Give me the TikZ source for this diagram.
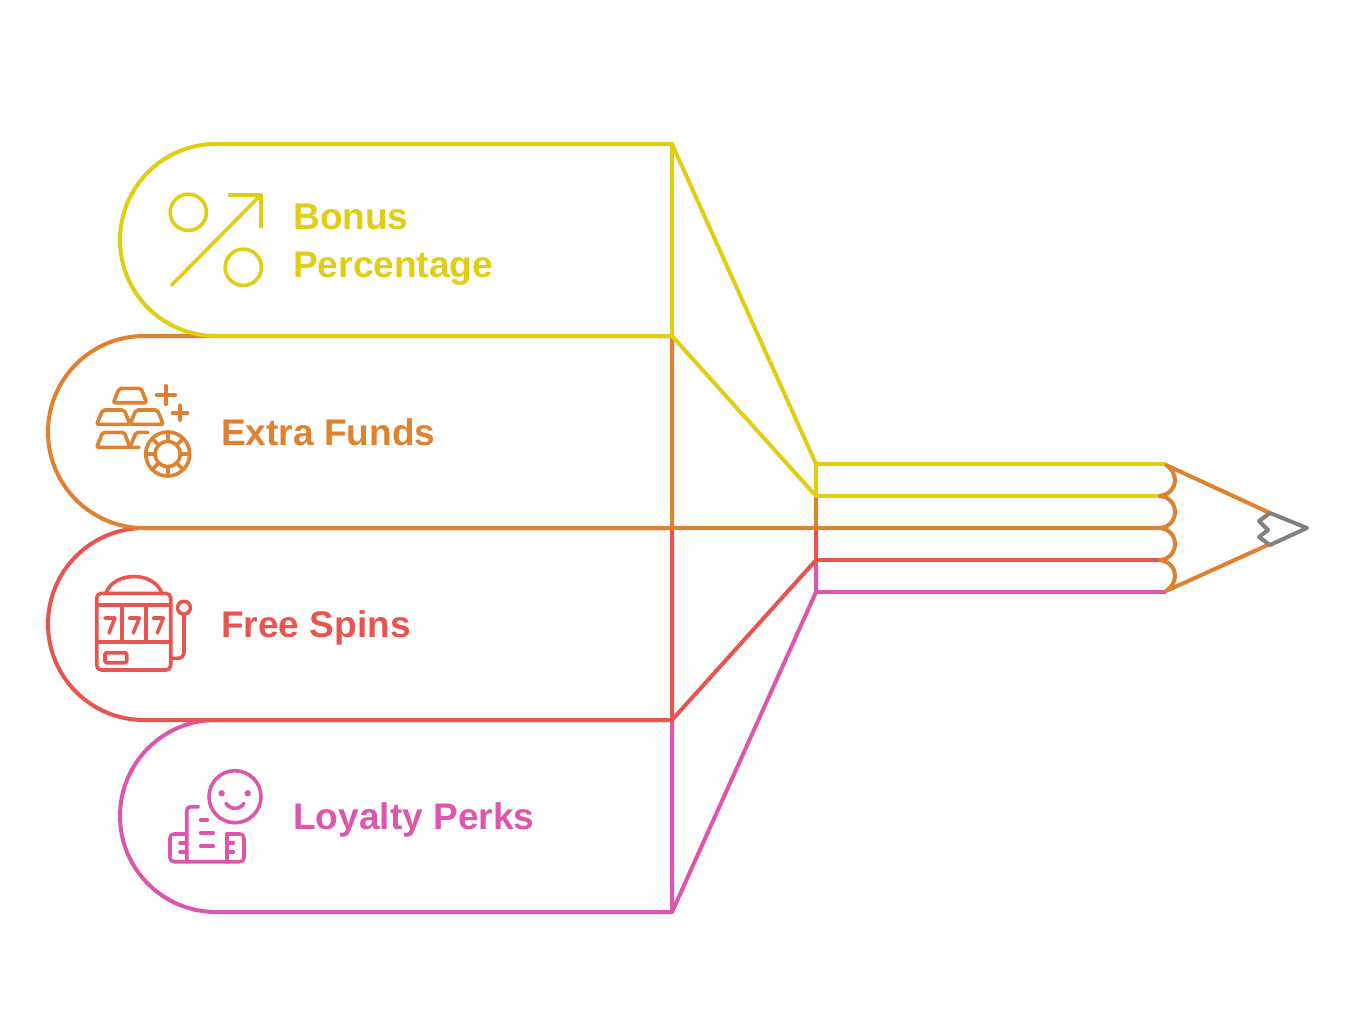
\documentclass[tikz,border=0pt]{standalone}
\usepackage{fontspec}
\setmainfont{Liberation Sans}
\definecolor{cYellow}{HTML}{E1CE12}
\definecolor{cOrange}{HTML}{E0812F}
\definecolor{cRed}{HTML}{E85550}
\definecolor{cPink}{HTML}{DE55AC}
\definecolor{cGrey}{HTML}{808080}
\tikzset{
  band/.style={line width=3pt, line join=round},
  icon/.style={line width=2.7pt, line join=round, line cap=round},
  lbl/.style={anchor=base west, inner sep=0pt, font=\fontsize{27.8pt}{36pt}\selectfont\bfseries},
}
\begin{document}
\begin{tikzpicture}[x=0.75pt, y=-0.75pt]
\useasboundingbox (0,0) rectangle (1355,1008);
% bands, lowest first
\draw[band, cPink] (672,720) -- (216,720) arc[start angle=90, end angle=270, radius=72pt] -- (672,912) -- cycle;
\draw[band, cPink] (672,912) -- (816,592) -- (816,560);
\draw[band, cPink] (816,592) -- (1166,592);
\draw[band, cRed] (672,528) -- (144,528) arc[start angle=90, end angle=270, radius=72pt] -- (672,720) -- cycle;
\draw[band, cRed] (672,720) -- (816,560) -- (816,528);
\draw[band, cRed] (816,560) -- (1160,560);
\draw[band, cOrange] (672,336) -- (144,336) arc[start angle=90, end angle=270, radius=72pt] -- (672,528) -- cycle;
\draw[band, cOrange] (672,528) -- (1160,528);
\draw[band, cOrange] (816,496) -- (816,528);
\draw[band, cYellow] (672,144) -- (216,144) arc[start angle=90, end angle=270, radius=72pt] -- (672,336) -- cycle;
\draw[band, cYellow] (672,144) -- (816,464) -- (816,496) -- (672,336);
\draw[band, cYellow] (816,464) -- (1166,464);
\draw[band, cYellow] (816,496) -- (1160,496);
% pencil tip
\draw[band, cOrange] (1270,513) -- (1166,465) .. controls (1178,472) and (1180,492) .. (1160,496)
  .. controls (1180,498) and (1180,526) .. (1160,528)
  .. controls (1180,530) and (1180,558) .. (1160,560)
  .. controls (1180,564) and (1178,584) .. (1166,591) -- (1270,544);
\draw[band, cGrey] (1270,513) -- (1307,528) -- (1270,545) -- (1259,537) -- (1268,530) -- (1259,521) -- cycle;
% labels
\node[lbl, cYellow] (lbBonus) at (293,229) {Bonus};
\node[lbl, cYellow] (lbPercent) at (293,277) {Percentage};
\node[lbl, cOrange] (lbFunds) at (221,445) {Extra Funds};
\node[lbl, cRed] (lbSpins) at (221,637) {Free Spins};
\node[lbl, cPink] (lbPerks) at (293,829) {Loyalty Perks};
% percent icon
\draw[icon, cYellow] (188.3,212.3) circle[radius=13.6pt];
\draw[icon, cYellow] (243.3,267.3) circle[radius=13.6pt];
\draw[icon, cYellow] (171.7,285) -- (260.7,195);
\draw[icon, cYellow] (229.3,195) -- (260.7,195) -- (260.7,226.7);
% gold and chip icon
\begin{scope}[icon, cOrange, rounded corners=1.5pt]
\draw (113.3,402.7) -- (119.3,388.3) -- (141,388.3) -- (146.7,402.7) -- cycle;
\draw (96.7,424.3) -- (102.7,410) -- (124.3,410) -- (130,424.3) -- cycle;
\draw (130,424.3) -- (136,410) -- (157.3,410) -- (163.3,424.3) -- cycle;
\draw (139,447.3) -- (96.7,447.3) -- (102.7,432.3) -- (124.3,432.3) -- (130,447.3);
\draw (130,447.3) -- (136,432.3) -- (148,432.3);
\end{scope}
\draw[icon, cOrange] (156.7,395) -- (175.3,395) (166,385.7) -- (166,404.3);
\draw[icon, cOrange] (172.5,412.7) -- (187.5,412.7) (180,405.2) -- (180,420.2);
\draw[icon, cOrange] (167.7,454) circle[radius=16.5pt];
\draw[icon, cOrange] (167.7,454) circle[radius=9.5pt];
\foreach \a in {0,45,...,315}
  \draw[icon, cOrange] (167.7,454) ++(\a:9.5pt) -- ++(\a:7pt);
% slot machine icon
\draw[icon, cRed, rounded corners=3.5pt] (96.7,593.3) rectangle (170.7,670);
\draw[icon, cRed] (106,593) .. controls (114,571) and (154,571) .. (161.7,593);
\draw[icon, cRed] (96.7,605) -- (170.7,605);
\draw[icon, cRed] (96.7,641.7) -- (170.7,641.7);
\draw[icon, cRed] (121.7,605) -- (121.7,641.7);
\draw[icon, cRed] (146,605) -- (146,641.7);
\foreach \x in {110,134.3,158.3}
  \draw[icon, cRed] (\x-5,618) -- (\x+5,618) -- (\x-1,633);
\draw[icon, cRed, rounded corners=1pt] (105,652.7) rectangle (126.7,662.7);
\draw[icon, cRed] (184,607.7) circle[radius=4.8pt];
\draw[icon, cRed, rounded corners=4pt] (184,614) -- (184,658.3) -- (170.7,658.3);
% smile icon
\draw[icon, cPink] (235,796.7) circle[radius=19.5pt];
\fill[cPink] (221.7,793.3) circle[radius=2.4pt];
\fill[cPink] (247.7,793.3) circle[radius=2.4pt];
\draw[icon, cPink] (226,803.3) .. controls (230,810) and (240,810) .. (244,803.3);
\draw[icon, cPink, rounded corners=3pt] (186.7,834) -- (170,834) -- (170,861.7) -- (244,861.7) -- (244,834) -- (226.7,834);
\draw[icon, cPink, rounded corners=3pt] (186.7,861.7) -- (186.7,806.7) -- (198.3,806.7);
\draw[icon, cPink] (226.7,834) -- (226.7,861.7);
\draw[icon, cPink] (200.7,820) -- (207.3,820);
\draw[icon, cPink] (200.7,832.7) -- (213.3,832.7);
\draw[icon, cPink] (200.7,846) -- (213.3,846);
\foreach \y in {842.7,851.7} {
  \draw[icon, cPink] (180,\y) -- (185,\y);
  \draw[icon, cPink] (228.3,\y) -- (233.3,\y);
}
\end{tikzpicture}
\end{document}
